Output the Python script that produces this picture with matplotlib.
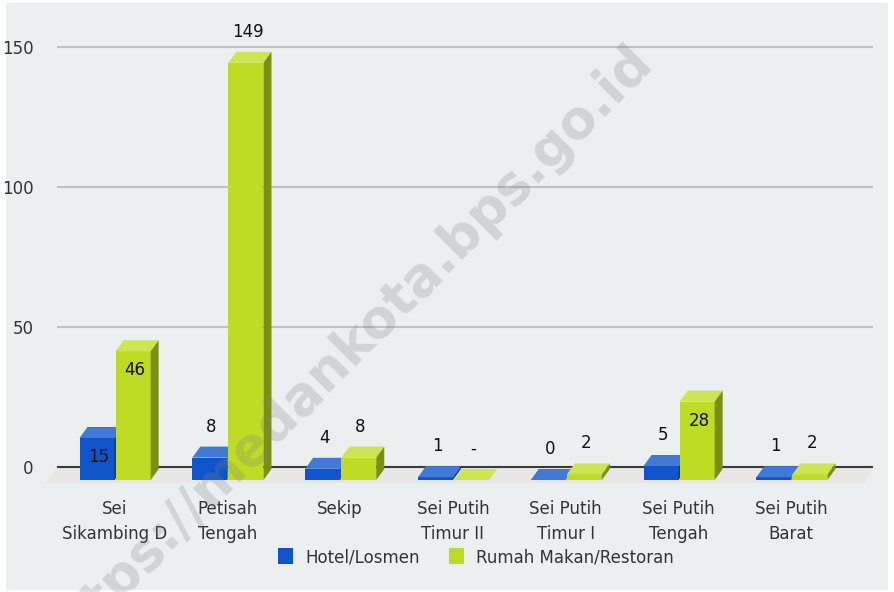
import numpy as np
import matplotlib.pyplot as plt
from matplotlib.patches import Polygon, Rectangle, Patch

# data
kelurahan = ['Sei\nSikambing D', 'Petisah\nTengah', 'Sekip', 'Sei Putih\nTimur II',
             'Sei Putih\nTimur I', 'Sei Putih\nTengah', 'Sei Putih\nBarat']
hotel = [15, 8, 4, 1, 0, 5, 1]
restoran = [46, 149, 8, None, 2, 28, 2]   # None = '-'
series_names = ['Hotel/Losmen', 'Rumah Makan/Restoran']

blue = {'front': '#1054C9', 'top': '#4079D6', 'side': '#0B3C91'}
green = {'front': '#BEDC23', 'top': '#CDE453', 'side': '#7B8F17'}

W, H = 894, 592
fig = plt.figure(figsize=(W / 100, H / 100), dpi=100)
fig.patch.set_facecolor('white')
fig.patches.append(Rectangle((6 / W, 2 / H), 882 / W, 587 / H, transform=fig.transFigure,
                             facecolor='#ECEFF0', edgecolor='none', zorder=-5))

# axes: x from 57 to 873 px, y=0 at 467 px, 2.8 px per unit
ylo, yhi = -6, 160
px = 2.8
ax_bottom = 467 + (-ylo) * px
ax_top = 467 - yhi * px
n = len(kelurahan)
xu = 112.8                    # px per category
ax = fig.add_axes([57 / W, (H - ax_bottom) / H, 816 / W, (ax_bottom - ax_top) / H])
ax.set_facecolor('none')
ax.set_xlim(-0.5, -0.5 + 816 / xu)
ax.set_ylim(ylo, yhi)
for s in ax.spines.values():
    s.set_visible(False)

dx = 8 / xu                   # depth in x units
dy = 11 / px                  # depth in y units
base = -13 / px               # front bottom
bw = 35 / xu

ax.set_yticks([0, 50, 100, 150])
ax.set_xticks([])
ax.tick_params(axis='y', length=0, pad=17, labelsize=12, labelcolor='#333333')
for v in [50, 100, 150]:
    ax.axhline(v, color='#BFC1C2', lw=1.5, zorder=1)

# floor
floor_front = -16 / px
xr = -0.5 + 816 / xu
ax.add_patch(Polygon([(-0.5, 0), (xr, 0), (xr - 0.07, floor_front), (-0.5 - 0.1, floor_front)],
                     facecolor='#E9E6E6', edgecolor='none', zorder=1, clip_on=False))
ax.axhline(0, color='#3A3A3A', lw=1.5, zorder=2)


def bar3d(x0, val, col):
    h = 0 if val is None else val
    x1 = x0 + bw
    y0 = base
    y1 = base + h
    ax.add_patch(Polygon([(x0, y0), (x1, y0), (x1, y1), (x0, y1)],
                         facecolor=col['front'], edgecolor='none', zorder=3))
    ax.add_patch(Polygon([(x0, y1), (x1, y1), (x1 + dx, y1 + dy), (x0 + dx, y1 + dy)],
                         facecolor=col['top'], edgecolor='none', zorder=3))
    ax.add_patch(Polygon([(x1, y0), (x1 + dx, y0 + dy), (x1 + dx, y1 + dy), (x1, y1)],
                         facecolor=col['side'], edgecolor='none', zorder=3))
    txt = '-' if val is None else str(val)
    cx = x0 + bw / 2 + 0.015
    if val is not None and 12 <= val < 100:
        ty = y1 - 19 / px
    else:
        ty = y1 + dy + 20 / px
    ax.text(cx, ty, txt, ha='center', va='center', fontsize=12, color='#111111', zorder=6)


for i in range(n):
    c = i + 0.01
    bar3d(c - bw, hotel[i], blue)
    bar3d(c + 0.01, restoran[i], green)
    ax.text(c, -33 / px, kelurahan[i], ha='center', va='top', fontsize=12,
            color='#333333', linespacing=1.5, clip_on=False)

handles = [Patch(facecolor=blue['front']), Patch(facecolor=green['front'])]
leg = fig.legend(handles, series_names, ncol=2, loc='center',
                 bbox_to_anchor=(476 / W, 1 - 557 / H), frameon=False,
                 handlelength=0.9, handleheight=1.1, handletextpad=0.7, columnspacing=1.8,
                 prop=dict(size=12))
for t in leg.get_texts():
    t.set_color('#333333')

# watermark
fig.text(345 / W, 1 - 352 / H, 'https://medankota.bps.go.id', rotation=45,
         rotation_mode='anchor', ha='center', va='center', fontsize=38,
         fontweight='bold', color='#808080', alpha=0.25, zorder=10)

fig.savefig('out.png', dpi=100)
